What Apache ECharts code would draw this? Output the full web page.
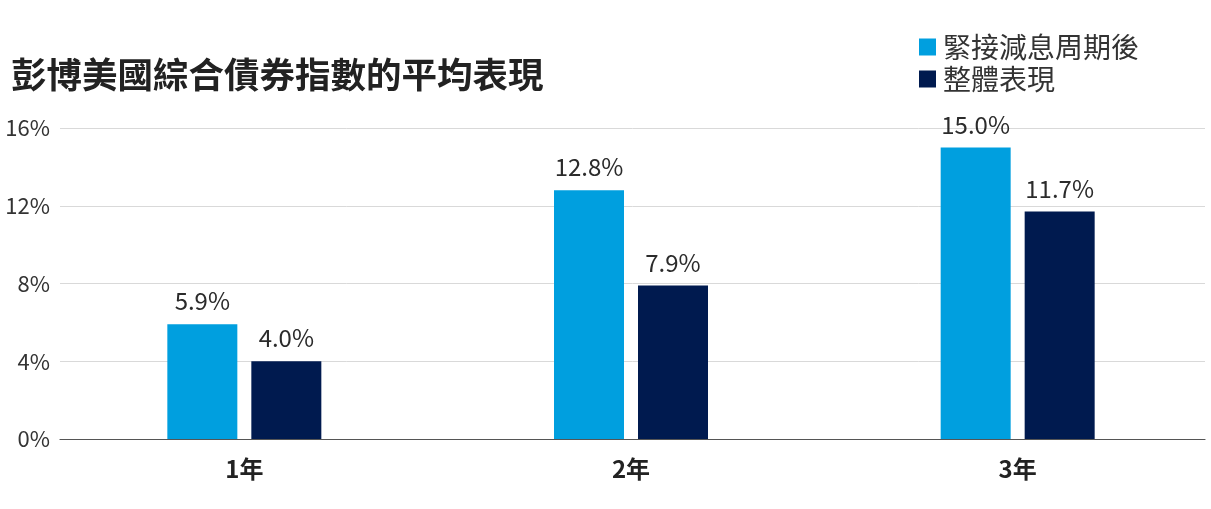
<!DOCTYPE html>
<html><head><meta charset="utf-8">
<script src="https://cdn.jsdelivr.net/npm/echarts@6/dist/echarts.min.js"></script>
<style>html,body{margin:0;padding:0;background:#fff}#c{width:1211px;height:509px}</style>
</head><body><div id="c"></div>
<script>
const categories = ['1年', '2年', '3年'];
const seriesNames = ['緊接減息周期後', '整體表現'];
const afterCuts = [5.9, 12.8, 15.0];
const overall = [4.0, 7.9, 11.7];
const yTicks = [0, 4, 8, 12, 16];
const titleText = '彭博美國綜合債券指數的平均表現';

const FONT = '"Noto Sans CJK TC", "Noto Sans", sans-serif';
const chart = echarts.init(document.getElementById('c'));
const labelCfg = {
  show: true, position: 'top', distance: 11,
  color: '#2b2b2b', fontSize: 24, fontFamily: FONT,
  formatter: p => p.value.toFixed(1) + '%'
};
chart.setOption({
  animation: false,
  backgroundColor: '#fff',
  title: {
    text: titleText, left: 6, top: 52,
    textStyle: { fontSize: 35.5, fontWeight: 'bold', color: '#222', fontFamily: FONT }
  },
  legend: {
    data: seriesNames, orient: 'vertical', left: 914, top: 28,
    icon: 'rect', itemWidth: 17, itemHeight: 17, itemGap: 4,
    textStyle: { fontSize: 28, color: '#333', fontFamily: FONT, padding: [0, 0, 0, 2] }
  },
  grid: [
    { left: 51, width: 1171, top: 128, bottom: 70 },
    { left: 60, right: 6, top: 128, bottom: 70 }
  ],
  xAxis: [
    { type: 'category', gridIndex: 0, data: categories,
      axisLine: { show: false }, axisTick: { show: false },
      axisLabel: { fontSize: 24, fontWeight: 'bold', color: '#222', margin: 18, fontFamily: FONT } },
    { type: 'category', gridIndex: 1, data: categories, show: true,
      axisLine: { show: true, lineStyle: { color: '#555', width: 1.2 } },
      axisTick: { show: false }, axisLabel: { show: false } }
  ],
  yAxis: [
    { type: 'value', gridIndex: 0, min: 0, max: 16, interval: 4, show: false },
    { type: 'value', gridIndex: 1, min: yTicks[0], max: yTicks[yTicks.length - 1], interval: 4,
      axisLine: { show: false }, axisTick: { show: false },
      splitLine: { lineStyle: { color: '#d9d9d9' } },
      axisLabel: { formatter: v => v + '%', fontSize: 22, color: '#333', margin: 10, fontFamily: FONT } }
  ],
  series: [
    { name: seriesNames[0], type: 'bar', xAxisIndex: 0, yAxisIndex: 0, data: afterCuts,
      barWidth: 70, barGap: '20%', itemStyle: { color: '#009fdf' }, label: labelCfg },
    { name: seriesNames[1], type: 'bar', xAxisIndex: 0, yAxisIndex: 0, data: overall,
      barWidth: 70, barGap: '20%', itemStyle: { color: '#001a4f' }, label: labelCfg }
  ]
});
</script></body></html>
